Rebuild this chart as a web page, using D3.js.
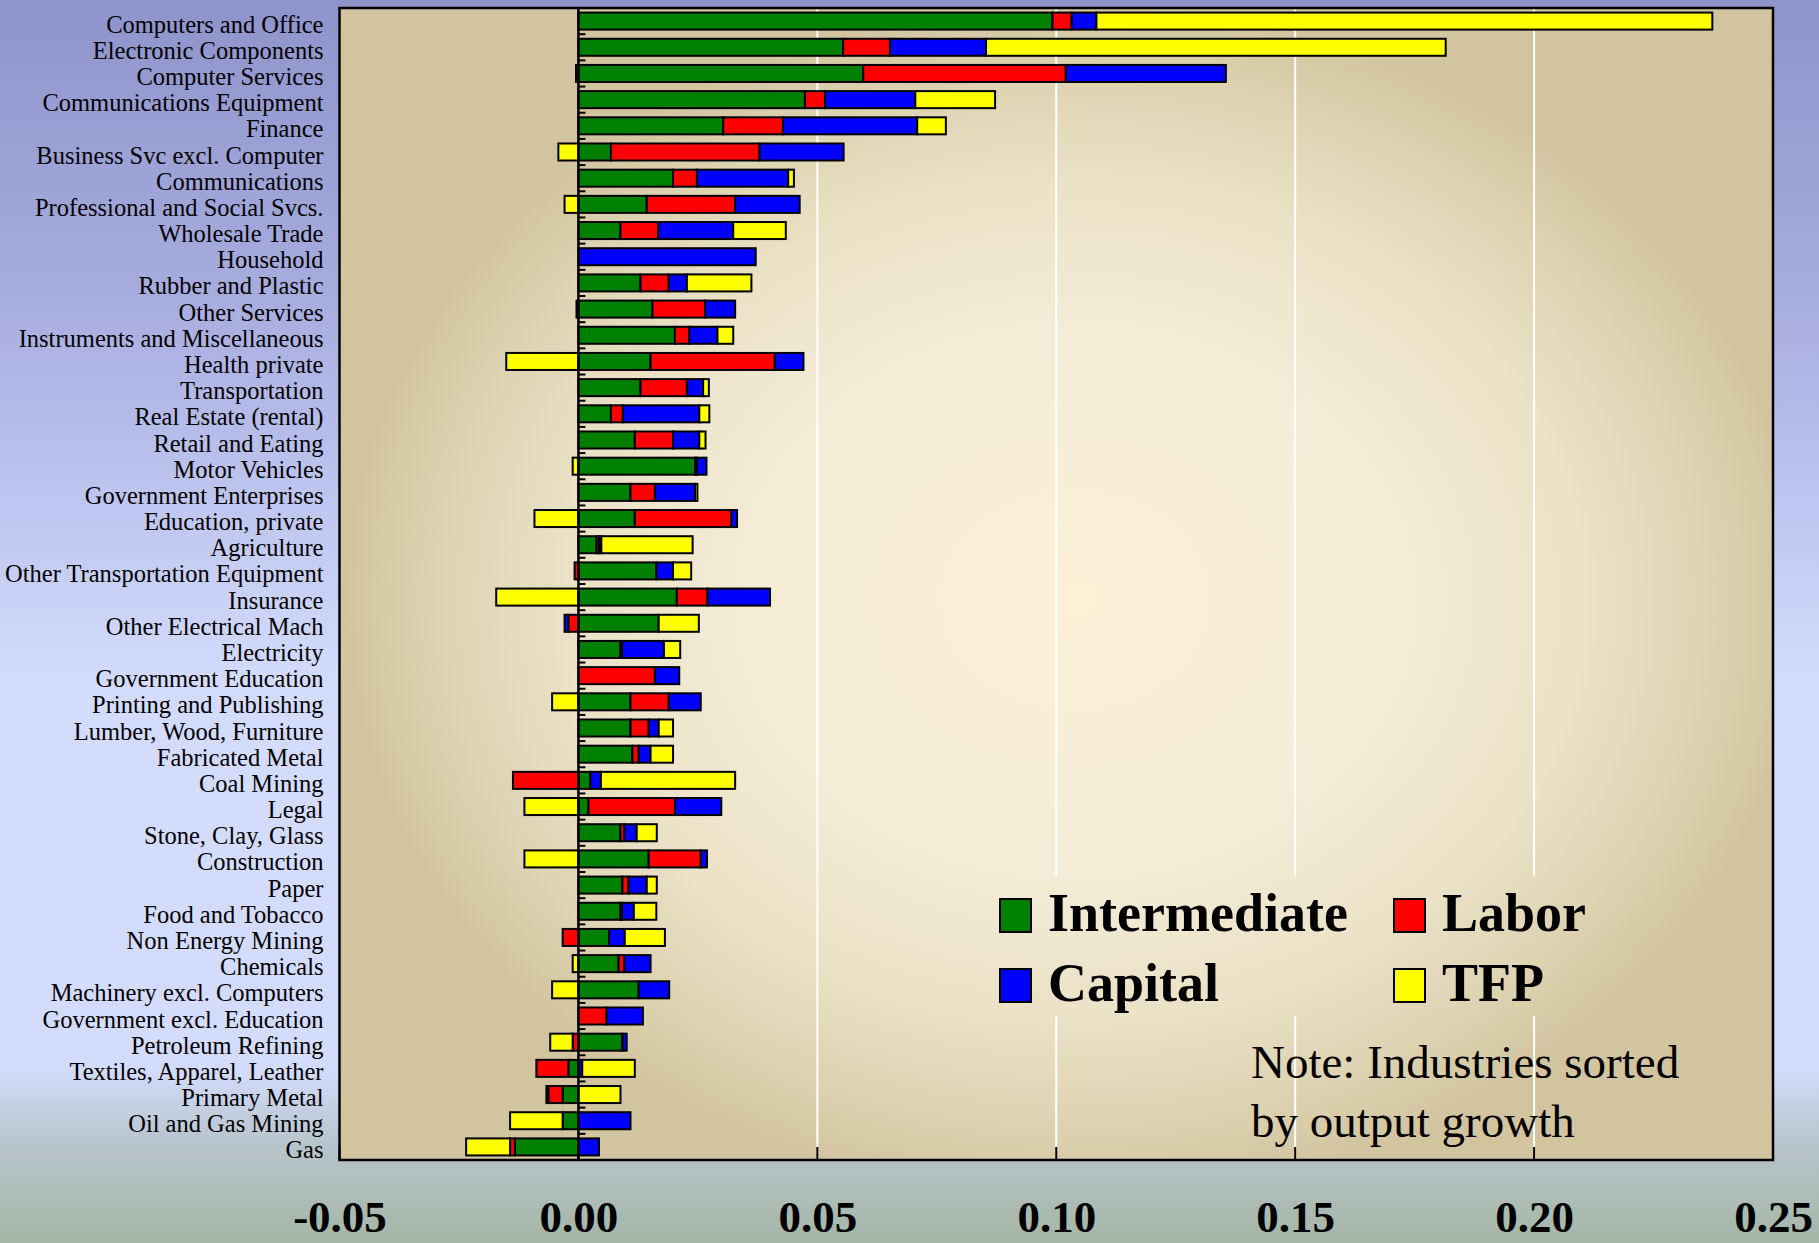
<!DOCTYPE html>
<html><head><meta charset="utf-8">
<script src="https://cdn.jsdelivr.net/npm/d3@7"></script>
<style>html,body{margin:0;padding:0;overflow:hidden;background:#c8d0f0;} svg{display:block;}</style>
</head><body>
<svg id="chart" width="1819" height="1243"></svg>
<script>
const categories = [
  "Computers and Office","Electronic Components","Computer Services","Communications Equipment",
  "Finance","Business Svc excl. Computer","Communications","Professional and Social Svcs.",
  "Wholesale Trade","Household","Rubber and Plastic","Other Services",
  "Instruments and Miscellaneous","Health private","Transportation","Real Estate (rental)",
  "Retail and Eating","Motor Vehicles","Government Enterprises","Education, private",
  "Agriculture","Other Transportation Equipment","Insurance","Other Electrical Mach",
  "Electricity","Government Education","Printing and Publishing","Lumber, Wood, Furniture",
  "Fabricated Metal","Coal Mining","Legal","Stone, Clay, Glass",
  "Construction","Paper","Food and Tobacco","Non Energy Mining",
  "Chemicals","Machinery excl. Computers","Government excl. Education","Petroleum Refining",
  "Textiles, Apparel, Leather","Primary Metal","Oil and Gas Mining","Gas"
];
const intermediate = [
  0.0992, 0.0554, 0.0596, 0.0474, 0.0303, 0.0068, 0.0198, 0.0143, 0.0088, 0,
  0.0130, 0.0155, 0.0202, 0.0151, 0.0130, 0.0068, 0.0118, 0.0244, 0.0109, 0.0118,
  0.0038, 0.0163, 0.0206, 0.0168, 0.0088, 0, 0.0109, 0.0109, 0.0113, 0.0025,
  0.0021, 0.0088, 0.0147, 0.0092, 0.0088, 0.0064, 0.0084, 0.0126, 0, 0.0092,
  -0.0021, -0.0033, -0.0033, -0.0133
];
const labor = [
  0.0040, 0.0098, 0.0424, 0.0042, 0.0125, 0.0311, 0.0050, 0.0185, 0.0079, 0,
  0.0059, 0.0110, 0.0030, 0.0260, 0.0097, 0.0025, 0.0080, 0.0004, 0.0051, 0.0202,
  0.0005, -0.0008, 0.0064, -0.0021, 0.0003, 0.0160, 0.0080, 0.0038, 0.0013, -0.0137,
  0.0181, 0.0008, 0.0109, 0.0013, 0.0003, -0.0033, 0.0012, 0, 0.0059, -0.0012,
  -0.0067, -0.0030, 0, -0.0010
];
const capital = [
  0.0052, 0.0201, 0.0335, 0.0189, 0.0281, 0.0176, 0.0191, 0.0135, 0.0157, 0.0371,
  0.0038, 0.0063, 0.0059, 0.0060, 0.0034, 0.0160, 0.0055, 0.0020, 0.0084, 0.0012,
  0.0005, 0.0035, 0.0131, -0.0008, 0.0088, 0.0051, 0.0067, 0.0021, 0.0025, 0.0022,
  0.0097, 0.0026, 0.0013, 0.0038, 0.0025, 0.0033, 0.0055, 0.0064, 0.0076, 0.0009,
  0.0008, -0.0004, 0.0109, 0.0043
];
const tfp = [
  0.1289, 0.0962, -0.0005, 0.0167, 0.0060, -0.0042, 0.0012, -0.0029, 0.0110, 0,
  0.0135, -0.0004, 0.0033, -0.0151, 0.0012, 0.0021, 0.0013, -0.0012, 0.0005, -0.0092,
  0.0191, 0.0038, -0.0172, 0.0084, 0.0034, 0, -0.0055, 0.0030, 0.0047, 0.0281,
  -0.0113, 0.0042, -0.0113, 0.0021, 0.0047, 0.0084, -0.0012, -0.0055, 0, -0.0047,
  0.0110, 0.0088, -0.0110, -0.0092
];
const seriesNames = ["Intermediate", "Labor", "Capital", "TFP"];
const xTicks = [-0.05, 0.00, 0.05, 0.10, 0.15, 0.20, 0.25];
const noteLines = ["Note: Industries sorted", "by output growth"];

const W = 1819, H = 1243;
const plot = {left: 339.5, right: 1773, top: 8, bottom: 1160};
const colors = {Intermediate: "#008000", Labor: "#ff0000", Capital: "#0000ff", TFP: "#ffff00"};
const serif = '"Liberation Serif","Times New Roman",Times,serif';

const rows = categories.map((c, i) => ({
  category: c, Intermediate: intermediate[i], Labor: labor[i], Capital: capital[i], TFP: tfp[i]
}));

const svg = d3.select("#chart");
const defs = svg.append("defs");

const pg = defs.append("linearGradient").attr("id", "pageBg")
  .attr("x1", 0).attr("y1", 0).attr("x2", 0).attr("y2", 1);
[[0, "#8e93cb"], [0.25, "#a9aee0"], [0.55, "#d3dcfd"], [0.86, "#d3dcfc"], [0.92, "#b8c4cc"], [1, "#a5b6a5"]]
  .forEach(([o, c]) => pg.append("stop").attr("offset", o).attr("stop-color", c));

const cx = 1075, cy = 600;
const rg = defs.append("radialGradient").attr("id", "plotBg")
  .attr("gradientUnits", "userSpaceOnUse")
  .attr("cx", cx).attr("cy", cy).attr("r", 730)
  .attr("gradientTransform", `translate(${cx},${cy}) scale(1,0.82) translate(${-cx},${-cy})`);
[[0, "#fcf0d7"], [0.45, "#f4ecd6"], [0.7, "#eae1c6"], [0.88, "#ddd2b0"], [1, "#d2c49f"]]
  .forEach(([o, c]) => rg.append("stop").attr("offset", o).attr("stop-color", c));

svg.append("rect").attr("width", W).attr("height", H).attr("fill", "url(#pageBg)");
svg.append("rect").attr("x", plot.left).attr("y", plot.top)
  .attr("width", plot.right - plot.left).attr("height", plot.bottom - plot.top)
  .attr("fill", "url(#plotBg)");

const x = d3.scaleLinear().domain([-0.05, 0.25]).range([plot.left, plot.right]);
const y = d3.scaleBand().domain(categories).range([plot.top, plot.bottom])
  .paddingInner(0.35).paddingOuter(0.175);

// gridlines
svg.append("g").selectAll("line").data(xTicks.filter(t => t > 0 && t < 0.25)).join("line")
  .attr("x1", d => x(d)).attr("x2", d => x(d))
  .attr("y1", plot.top).attr("y2", plot.bottom)
  .attr("stroke", "#ffffff").attr("stroke-width", 2);

// legend background hides gridlines
svg.append("rect").attr("x", 985).attr("y", 876).attr("width", 680).attr("height", 140)
  .attr("fill", "url(#plotBg)");

// bars
const stack = d3.stack().keys(seriesNames).offset(d3.stackOffsetDiverging);
const stacked = stack(rows);
const gBars = svg.append("g");
stacked.forEach(s => {
  gBars.append("g").selectAll("rect")
    .data(s.filter(d => d[1] !== d[0]))
    .join("rect")
    .attr("x", d => x(Math.min(d[0], d[1])))
    .attr("width", d => Math.abs(x(d[1]) - x(d[0])))
    .attr("y", d => y(d.data.category))
    .attr("height", y.bandwidth())
    .attr("fill", colors[s.key])
    .attr("stroke", "#000").attr("stroke-width", 2);
});

// zero line + small category ticks
const x0 = x(0);
svg.append("line").attr("x1", x0).attr("x2", x0).attr("y1", plot.top).attr("y2", plot.bottom)
  .attr("stroke", "#000").attr("stroke-width", 2.5);
const step = y.step();
svg.append("g").selectAll("line").data(d3.range(1, categories.length)).join("line")
  .attr("x1", x0).attr("x2", x0 + 7)
  .attr("y1", i => plot.top + i * step).attr("y2", i => plot.top + i * step)
  .attr("stroke", "#000").attr("stroke-width", 2);

// bottom inner ticks
svg.append("g").selectAll("line").data(xTicks).join("line")
  .attr("x1", d => x(d)).attr("x2", d => x(d))
  .attr("y1", plot.bottom).attr("y2", plot.bottom - 13)
  .attr("stroke", "#000").attr("stroke-width", 2);

// x axis labels
const xAxis = d3.axisBottom(x).tickValues(xTicks).tickFormat(d => d.toFixed(2)).tickSize(0);
const gx = svg.append("g").attr("transform", `translate(0,${plot.bottom})`).call(xAxis);
gx.select(".domain").remove();
gx.selectAll("text").attr("y", 72).attr("dy", 0)
  .attr("font-family", serif).attr("font-weight", "bold").attr("font-size", 45).attr("fill", "#000");

// y axis labels
const yAxis = d3.axisLeft(y).tickSize(0).tickPadding(16);
const gy = svg.append("g").attr("transform", `translate(${plot.left},0)`).call(yAxis);
gy.select(".domain").remove();
gy.selectAll("text").attr("dy", 11.5)
  .attr("font-family", serif).attr("font-size", 24.5).attr("fill", "#000");

// legend
const legendPos = [
  {name: "Intermediate", sx: 1000, sy: 899, ty: 931},
  {name: "Labor", sx: 1394, sy: 899, ty: 931},
  {name: "Capital", sx: 1000, sy: 969, ty: 1001},
  {name: "TFP", sx: 1394, sy: 969, ty: 1001}
];
const gl = svg.append("g");
legendPos.forEach(p => {
  gl.append("rect").attr("x", p.sx).attr("y", p.sy).attr("width", 31).attr("height", 33)
    .attr("fill", colors[p.name]).attr("stroke", "#000").attr("stroke-width", 2);
  gl.append("text").attr("x", p.sx + 48).attr("y", p.ty).text(p.name)
    .attr("font-family", serif).attr("font-weight", "bold").attr("font-size", 54).attr("fill", "#000");
});

// note
svg.append("g").selectAll("text").data(noteLines).join("text")
  .attr("x", 1251).attr("y", (d, i) => 1078 + i * 59).text(d => d)
  .attr("font-family", serif).attr("font-size", 47).attr("fill", "#000");

// plot border
svg.append("rect").attr("x", plot.left).attr("y", plot.top)
  .attr("width", plot.right - plot.left).attr("height", plot.bottom - plot.top)
  .attr("fill", "none").attr("stroke", "#000").attr("stroke-width", 2.5);
</script>
</body></html>
